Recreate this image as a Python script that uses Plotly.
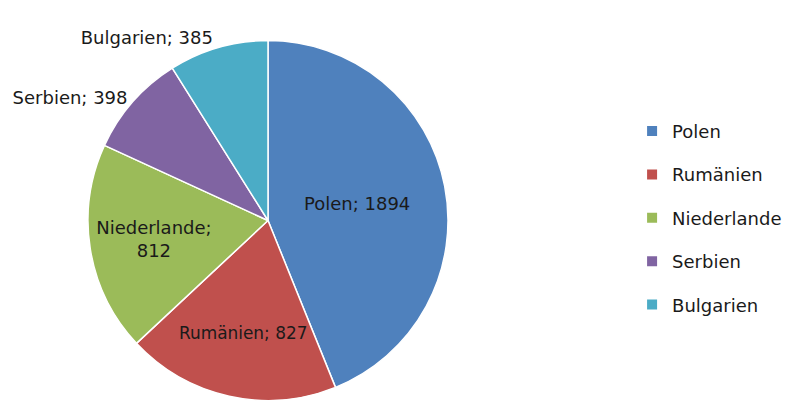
import plotly.graph_objects as go

labels = ["Polen", "Rumänien", "Niederlande", "Serbien", "Bulgarien"]
values = [1894, 827, 812, 398, 385]
colors = ["#4F81BD", "#C0504D", "#9BBB59", "#8064A2", "#4BACC6"]
text_positions = ["inside", "inside", "inside", "outside", "outside"]
templates = ["%{label}; %{value}", "%{label}; %{value}", "%{label};<br>%{value}",
             "%{label}; %{value}", "%{label}; %{value}"]

FONT = "DejaVu Sans"

fig = go.Figure()
fig.add_trace(go.Pie(
    labels=labels, values=values, sort=False, direction="clockwise", rotation=0,
    marker=dict(colors=colors, line=dict(color="white", width=1.5)),
    texttemplate=templates, textposition=text_positions,
    insidetextorientation="horizontal",
    textfont=dict(family=FONT, size=18, color="#1a1a1a"),
    showlegend=False, hoverinfo="label+value",
    domain=dict(x=[80/794, 440/794], y=[18/411, 379/411]),
))

for lab, col in zip(labels, colors):
    fig.add_trace(go.Scatter(
        x=[None], y=[None], mode="markers", name=lab, legendgroup=lab,
        marker=dict(symbol="square", size=10, color=col),
    ))

fig.update_layout(
    width=794, height=411,
    margin=dict(l=0, r=0, t=0, b=0),
    paper_bgcolor="white", plot_bgcolor="white",
    xaxis=dict(visible=False), yaxis=dict(visible=False),
    legend=dict(x=0.786, y=0.745, xanchor="left", yanchor="top",
                font=dict(family=FONT, size=18, color="#1a1a1a"),
                tracegroupgap=17, itemwidth=30),
    font=dict(family=FONT),
)

fig.write_html("out.html")
